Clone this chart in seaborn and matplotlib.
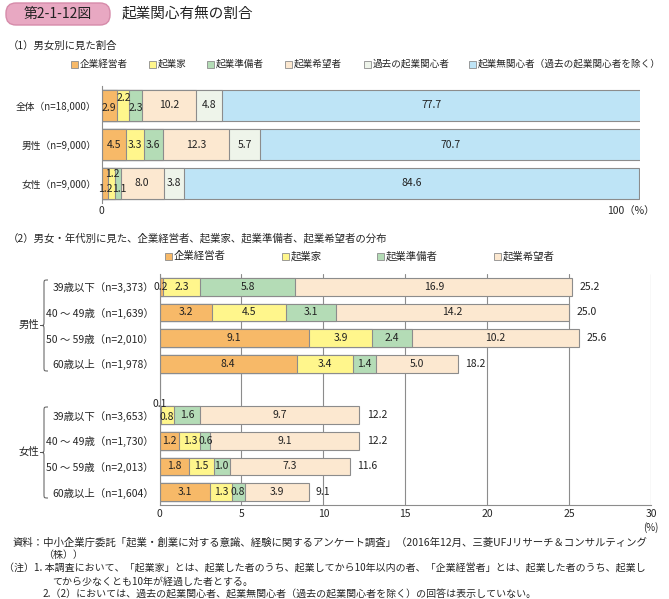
import numpy as np
import pandas as pd
import matplotlib
matplotlib.use("Agg")
import matplotlib.pyplot as plt
import seaborn as sns
from matplotlib.patches import Rectangle, FancyBboxPatch, PathPatch
from matplotlib.path import Path
from matplotlib.transforms import Affine2D

# ---------------- data ----------------
series_names = ["企業経営者", "起業家", "起業準備者", "起業希望者",
                "過去の起業関心者", "起業無関心者（過去の起業関心者を除く）"]

cats_top = ["全体（n=18,000）", "男性（n=9,000）", "女性（n=9,000）"]
keiei_top = [2.9, 4.5, 1.2]
kigyoka_top = [2.2, 3.3, 1.2]
junbi_top = [2.3, 3.6, 1.1]
kibo_top = [10.2, 12.3, 8.0]
kako_top = [4.8, 5.7, 3.8]
mukanshin_top = [77.7, 70.7, 84.6]

cats_male = ["39歳以下（n=3,373）", "40 ～ 49歳（n=1,639）",
             "50 ～ 59歳（n=2,010）", "60歳以上（n=1,978）"]
cats_female = ["39歳以下（n=3,653）", "40 ～ 49歳（n=1,730）",
               "50 ～ 59歳（n=2,013）", "60歳以上（n=1,604）"]
keiei_bot = [0.2, 3.2, 9.1, 8.4, 0.1, 1.2, 1.8, 3.1]
kigyoka_bot = [2.3, 4.5, 3.9, 3.4, 0.8, 1.3, 1.5, 1.3]
junbi_bot = [5.8, 3.1, 2.4, 1.4, 1.6, 0.6, 1.0, 0.8]
kibo_bot = [16.9, 14.2, 10.2, 5.0, 9.7, 9.1, 7.3, 3.9]
totals_bot = [25.2, 25.0, 25.6, 18.2, 12.2, 12.2, 11.6, 9.1]

xticks_bot = [0, 5, 10, 15, 20, 25, 30]

colors = ["#F7B968", "#FFF68C", "#B4DCB6", "#FCE8D0", "#EEF4EA", "#BEE4F6"]
edge = "#8C8C8C"

# ---------------- setup ----------------
sns.set_style("white")
plt.rcParams["font.family"] = ["Noto Sans CJK JP", "DejaVu Sans"]

W, H = 669, 599
fig = plt.figure(figsize=(W / 100, H / 100), dpi=100)
pix = Affine2D().scale(1 / W, -1 / H).translate(0, 1) + fig.transFigure


def ftext(x, y, s, **kw):
    fig.text(x / W, 1 - y / H, s, **kw)


def ax_rect(x0, y0, x1, y1):
    return [x0 / W, 1 - y1 / H, (x1 - x0) / W, (y1 - y0) / H]


# ---------------- header ----------------
box = FancyBboxPatch((6, 3), 104, 22, boxstyle="round,pad=0,rounding_size=10",
                     transform=pix, facecolor="#E8A8C2", edgecolor="#D68BAA",
                     linewidth=1.0)
fig.patches.append(box)
ftext(58, 14, "第2-1-12図", fontsize=10, ha="center", va="center", color="#222222")
ftext(122, 14, "起業関心有無の割合", fontsize=10.5, ha="left", va="center", color="#222222")

ftext(8, 46, "（1）男女別に見た割合", fontsize=7.5, ha="left", va="center")
ftext(8, 238, "（2）男女・年代別に見た、企業経営者、起業家、起業準備者、起業希望者の分布",
      fontsize=7.5, ha="left", va="center")


def legend_item(x, y, c, s, fs):
    r = Rectangle((x, y - 3.5), 7, 7, transform=pix, facecolor=c,
                  edgecolor=edge, linewidth=0.6)
    fig.patches.append(r)
    ftext(x + 9, y, s, fontsize=fs, ha="left", va="center")


for x, c, s in zip([71, 149, 207, 285, 364, 469], colors, series_names):
    legend_item(x, 64, c, s, 6.9)
for x, c, s in zip([165, 282, 377, 494], colors[:4], series_names[:4]):
    legend_item(x, 256, c, s, 7.5)

# ---------------- top panel ----------------
ax1 = fig.add_axes(ax_rect(101.7, 86, 640, 203))
top_series = [keiei_top, kigyoka_top, junbi_top, kibo_top, kako_top, mukanshin_top]
top_arr = np.array(top_series)
cum_top = np.cumsum(top_arr, axis=0)
for k in range(len(top_series) - 1, -1, -1):
    df = pd.DataFrame({"cat": cats_top, "val": cum_top[k]})
    sns.barplot(data=df, x="val", y="cat", order=cats_top, orient="h",
                color=colors[k], saturation=1, edgecolor=edge, linewidth=0.8,
                width=0.78, errorbar=None, ax=ax1)

offs_top = {(0, 0): (-0.2, 0.07), (0, 1): (0.1, -0.2), (0, 2): (0, 0.07),
            (2, 0): (0, 0.13), (2, 1): (0.1, -0.24), (2, 2): (0.35, 0.13)}
for k in range(len(top_series)):
    for i in range(len(cats_top)):
        v = top_arr[k, i]
        left = cum_top[k, i] - v
        dx, dy = offs_top.get((i, k), (0, 0))
        ax1.text(left + v / 2 + dx, i + dy, f"{v:.1f}", ha="center", va="center",
                 fontsize=7.5, color="#222222")

ax1.set_xlim(0, 100)
ax1.set_ylim(2.5, -0.5)
ax1.set_xlabel("")
ax1.set_ylabel("")
ax1.set_xticks([])
ax1.tick_params(axis="y", length=0, pad=4, labelsize=7)
ax1.set_yticks(range(3))
ax1.set_yticklabels(cats_top)
ax1.set_yticks([-0.5, 0.5, 1.5, 2.5], minor=True)
ax1.tick_params(axis="y", which="minor", direction="in", length=3, color=edge, width=0.8)
for s in ["top", "right", "bottom"]:
    ax1.spines[s].set_visible(False)
ax1.spines["left"].set_color(edge)
ax1.spines["left"].set_linewidth(0.8)
ftext(101.7, 211, "0", fontsize=7.5, ha="center", va="center")
ftext(631, 211, "100（%）", fontsize=7.5, ha="center", va="center")

# ---------------- bottom panel ----------------
spacer = " "
cats_bot = cats_male + cats_female
order_bot = cats_male + [spacer] + cats_female
bot_series = [keiei_bot, kigyoka_bot, junbi_bot, kibo_bot]
bot_arr = np.array(bot_series)
cum_bot = np.cumsum(bot_arr, axis=0)

ax2 = fig.add_axes(ax_rect(159.5, 274, 651, 505))
ax2.set_axisbelow(True)
for k in range(len(bot_series) - 1, -1, -1):
    df = pd.DataFrame({"cat": cats_bot, "val": cum_bot[k]})
    sns.barplot(data=df, x="val", y="cat", order=order_bot, orient="h",
                color=colors[k], saturation=1, edgecolor=edge, linewidth=0.8,
                width=0.68, errorbar=None, ax=ax2)

pos_bot = [order_bot.index(c) for c in cats_bot]
offs_bot = {(4, 0): (-0.05, -0.42), (4, 1): (-0.06, 0.08)}
for k in range(len(bot_series)):
    for i, p in enumerate(pos_bot):
        v = bot_arr[k, i]
        left = cum_bot[k, i] - v
        dx, dy = offs_bot.get((i, k), (0, 0))
        ax2.text(left + v / 2 + dx, p + dy, f"{v:.1f}", ha="center", va="center",
                 fontsize=7.5, color="#222222")
for i, p in enumerate(pos_bot):
    ax2.text(totals_bot[i] + 0.45, p, f"{totals_bot[i]:.1f}", ha="left", va="center",
             fontsize=7.5, color="#222222")

ax2.set_xlim(0, 30)
ax2.set_ylim(len(order_bot) - 0.5, -0.5)
ax2.set_xticks(xticks_bot)
ax2.set_xticklabels([str(t) for t in xticks_bot])
ax2.grid(axis="x", color="#8C8C8C", linewidth=0.8)
ax2.grid(axis="y", visible=False)
ax2.set_xlabel("")
ax2.set_ylabel("")
ax2.tick_params(axis="x", length=0, pad=3, labelsize=7.5)
ax2.tick_params(axis="y", length=0, pad=4, labelsize=7.5)
ax2.set_yticks(range(len(order_bot)))
ax2.set_yticklabels(order_bot)
for s in ["top", "right"]:
    ax2.spines[s].set_visible(False)
for s in ["left", "bottom"]:
    ax2.spines[s].set_color(edge)
    ax2.spines[s].set_linewidth(0.8)
ftext(651, 528, "(%)", fontsize=7, ha="center", va="center")


# braces and group labels
def brace(xr, xl, yt, yb):
    xm = (xr + xl) / 2
    ym = (yt + yb) / 2
    r = 4
    verts = [(xr, yt), (xm, yt), (xm, yt), (xm, yt + r),
             (xm, ym - r),
             (xm, ym), (xm, ym), (xl, ym),
             (xm, ym), (xm, ym), (xm, ym + r),
             (xm, yb - r),
             (xm, yb), (xm, yb), (xr, yb)]
    codes = [Path.MOVETO, Path.CURVE4, Path.CURVE4, Path.CURVE4,
             Path.LINETO,
             Path.CURVE4, Path.CURVE4, Path.CURVE4,
             Path.CURVE4, Path.CURVE4, Path.CURVE4,
             Path.LINETO,
             Path.CURVE4, Path.CURVE4, Path.CURVE4]
    fig.patches.append(PathPatch(Path(verts, codes), transform=pix, facecolor="none",
                                 edgecolor="#555555", linewidth=0.7))


brace(48, 40, 280, 371)
brace(48, 40, 407, 498)
ftext(29, 325, "男性", fontsize=7.5, ha="center", va="center")
ftext(29, 452, "女性", fontsize=7.5, ha="center", va="center")

# ---------------- footnotes ----------------
fn = 7.2
ftext(13, 542, "資料：中小企業庁委託「起業・創業に対する意識、経験に関するアンケート調査」（2016年12月、三菱UFJリサーチ＆コンサルティング",
      fontsize=7.5, ha="left", va="center")
ftext(43, 555, "（株））", fontsize=fn, ha="left", va="center")
ftext(4, 568.5, "（注）1. 本調査において、「起業家」とは、起業した者のうち、起業してから10年以内の者、「企業経営者」とは、起業した者のうち、起業し",
      fontsize=fn, ha="left", va="center")
ftext(52, 582, "てから少なくとも10年が経過した者とする。", fontsize=fn, ha="left", va="center")
ftext(43, 595, "2.（2）においては、過去の起業関心者、起業無関心者（過去の起業関心者を除く）の回答は表示していない。",
      fontsize=fn, ha="left", va="center")

fig.savefig("out.png", dpi=100)
